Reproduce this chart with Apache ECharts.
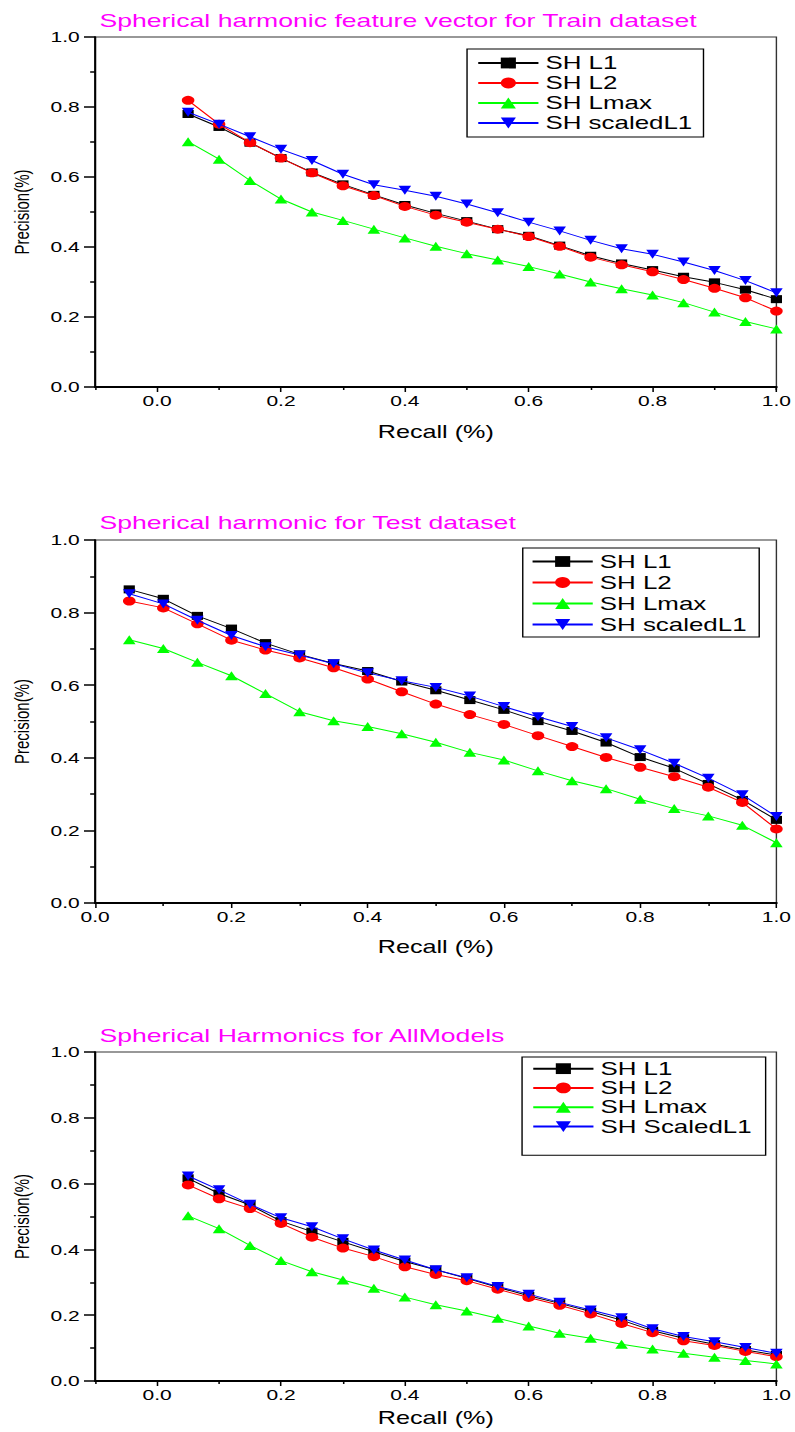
<!DOCTYPE html>
<html>
<head>
<meta charset="utf-8">
<script src="https://cdn.jsdelivr.net/npm/echarts@6/dist/echarts.min.js"></script>
<style>
html,body{margin:0;padding:0;background:#fff;overflow:hidden;}
#wrap{width:795px;height:1432px;overflow:hidden;}
#chart{width:568px;height:1432px;transform:scaleX(1.4);transform-origin:0 0;}
</style>
</head>
<body>
<div id="wrap"><div id="chart"></div></div>
<script>
// ---------- data ----------
const recall = [0.05,0.10,0.15,0.20,0.25,0.30,0.35,0.40,0.45,0.50,0.55,0.60,0.65,0.70,0.75,0.80,0.85,0.90,0.95,1.00];
const xTickLabels = [0.0,0.2,0.4,0.6,0.8,1.0];

const titles = ['Spherical harmonic feature vector for Train dataset','Spherical harmonic for Test dataset','Spherical Harmonics for AllModels'];
const seriesNames1 = ['SH L1','SH L2','SH Lmax','SH scaledL1'];
const seriesNames2 = ['SH L1','SH L2','SH Lmax','SH scaledL1'];
const seriesNames3 = ['SH L1','SH L2','SH Lmax','SH ScaledL1'];

// Chart 1: Train
const trainL1     = [0.780,0.743,0.698,0.654,0.613,0.579,0.549,0.520,0.496,0.474,0.451,0.432,0.404,0.375,0.353,0.334,0.315,0.299,0.278,0.251];
const trainL2     = [0.819,0.751,0.698,0.654,0.612,0.575,0.547,0.516,0.491,0.471,0.451,0.430,0.402,0.371,0.349,0.329,0.307,0.282,0.255,0.217];
const trainLmax   = [0.701,0.651,0.590,0.537,0.500,0.476,0.451,0.426,0.402,0.381,0.363,0.344,0.323,0.300,0.281,0.263,0.241,0.214,0.187,0.166];
const trainScaled = [0.785,0.751,0.715,0.679,0.647,0.608,0.578,0.562,0.545,0.523,0.498,0.471,0.446,0.419,0.395,0.379,0.357,0.333,0.304,0.269];

// Chart 2: Test
const testL1     = [0.864,0.838,0.791,0.756,0.716,0.685,0.660,0.639,0.610,0.586,0.559,0.532,0.501,0.474,0.442,0.402,0.371,0.328,0.284,0.229];
const testL2     = [0.832,0.813,0.769,0.724,0.697,0.675,0.648,0.617,0.582,0.548,0.519,0.492,0.461,0.431,0.401,0.374,0.348,0.319,0.277,0.204];
const testLmax   = [0.725,0.701,0.663,0.626,0.577,0.527,0.502,0.486,0.466,0.443,0.415,0.394,0.364,0.337,0.315,0.286,0.260,0.240,0.214,0.166];
const testScaled = [0.852,0.824,0.779,0.737,0.706,0.683,0.659,0.634,0.612,0.594,0.570,0.541,0.513,0.486,0.455,0.422,0.385,0.344,0.298,0.238];

// Chart 3: All models
const allL1     = [0.616,0.570,0.535,0.486,0.454,0.423,0.393,0.363,0.338,0.312,0.285,0.259,0.236,0.211,0.185,0.153,0.130,0.112,0.094,0.079];
const allL2     = [0.596,0.554,0.524,0.479,0.437,0.404,0.378,0.347,0.324,0.305,0.279,0.254,0.230,0.204,0.175,0.147,0.122,0.108,0.090,0.074];
const allLmax   = [0.502,0.463,0.412,0.366,0.332,0.307,0.282,0.255,0.232,0.213,0.191,0.167,0.145,0.130,0.112,0.097,0.084,0.072,0.062,0.052];
const allScaled = [0.623,0.581,0.537,0.496,0.469,0.432,0.398,0.368,0.338,0.314,0.287,0.264,0.239,0.216,0.192,0.159,0.135,0.119,0.102,0.084];

// ---------- styles ----------
const FONT = '"Liberation Sans", Arial, sans-serif';
const colors = ['#000000','#ff0000','#00ff00','#0000ff'];
const symbols = ['rect','circle','triangle','path://M0,0 L10,0 L5,10 Z'];
const symSizes = [8,9,9,9];
const fmt = v => Number(v).toFixed(1);

const chart = echarts.init(document.getElementById('chart'), null, {renderer:'svg'});

const grids = [
  {left:65, right:11.6, top:37, height:350},
  {left:65, right:11.6, top:540, height:363},
  {left:65, right:11.6, top:1052, height:329}
];
const titleTops = [6, 508, 1021];
const nameGaps = [36, 35, 28];

const legends = [
  {left:333.6, top:49, lineHeight:20, padding:[4,8,4,7], names:seriesNames1},
  {left:373.4, top:548, lineHeight:21, padding:[3,9,2,6], names:seriesNames2},
  {left:372.9, top:1057, lineHeight:19.3, padding:[2,10,19,7], names:seriesNames3}
];

const dataSets = [
  [trainL1, trainL2, trainLmax, trainScaled],
  [testL1, testL2, testLmax, testScaled],
  [allL1, allL2, allLmax, allScaled]
];
const seriesNameSets = [seriesNames1, seriesNames2, seriesNames3];

const xAxes = [], yAxes = [], series = [];
const axisLabelStyle = {color:'#000', fontSize:15, fontFamily:FONT};

grids.forEach((g, gi) => {
  const extended = gi !== 1;  // charts 1 and 3 start at -0.1
  const mainX = xAxes.length;
  if (extended) {
    // axis line + minor ticks
    xAxes.push({
      type:'value', gridIndex:gi, position:'bottom', min:-0.1, max:1.0, interval:0.2,
      axisLine:{show:true, onZero:false, lineStyle:{color:'#000', width:2}},
      axisTick:{show:true, length:3, lineStyle:{color:'#000', width:1.1}},
      axisLabel:{show:false}, splitLine:{show:false},
      name:'Recall (%)', nameLocation:'middle', nameGap:nameGaps[gi],
      nameTextStyle:{color:'#000', fontSize:18, fontFamily:FONT}
    });
    // major ticks + labels
    xAxes.push({
      type:'value', gridIndex:gi, position:'bottom', offset:0, min:-0.1, max:1.0,
      axisLine:{show:false, onZero:false},
      axisTick:{show:true, length:5, customValues:xTickLabels, lineStyle:{color:'#000', width:1.1}},
      axisLabel:Object.assign({show:true, margin:6, customValues:xTickLabels, formatter:fmt}, axisLabelStyle),
      splitLine:{show:false}
    });
  } else {
    xAxes.push({
      type:'value', gridIndex:gi, position:'bottom', min:0, max:1.0, interval:0.2,
      axisLine:{show:true, onZero:false, lineStyle:{color:'#000', width:2}},
      axisTick:{show:true, length:5, lineStyle:{color:'#000', width:1.1}},
      minorTick:{show:true, splitNumber:2, length:3, lineStyle:{color:'#000', width:1.1}},
      axisLabel:Object.assign({show:true, margin:6, formatter:fmt}, axisLabelStyle),
      splitLine:{show:false},
      name:'Recall (%)', nameLocation:'middle', nameGap:nameGaps[gi],
      nameTextStyle:{color:'#000', fontSize:18, fontFamily:FONT}
    });
  }
  const yIdx = yAxes.length;
  yAxes.push({
    type:'value', gridIndex:gi, position:'left', min:0, max:1.0, interval:0.2,
    axisLine:{show:true, onZero:false, lineStyle:{color:'#000', width:1.5}},
    axisTick:{show:true, length:8, lineStyle:{color:'#000', width:1.5}},
    minorTick:{show:true, splitNumber:2, length:3.6, lineStyle:{color:'#000', width:1.5}},
    axisLabel:Object.assign({show:true, margin:11, formatter:fmt}, axisLabelStyle),
    splitLine:{show:false},
    name:'Precision(%)', nameLocation:'middle', nameGap:45,
    nameTextStyle:{color:'#000', fontSize:15, fontFamily:FONT}
  });
  dataSets[gi].forEach((vals, si) => {
    series.push({
      type:'line', name:seriesNameSets[gi][si], xAxisIndex:mainX, yAxisIndex:yIdx,
      data: recall.map((r, i) => [r, vals[i]]),
      symbol:symbols[si], symbolSize:symSizes[si], showSymbol:true,
      lineStyle:{color:colors[si], width:1},
      itemStyle:{color:colors[si]},
      animation:false, z:2+si
    });
  });
});

const option = {
  animation:false,
  backgroundColor:'#fff',
  title: titles.map((t, i) => ({
    text:t, left:66, top:titleTops[i],
    textStyle:{color:'#ff00ff', fontSize:19, fontWeight:'normal', fontFamily:FONT}
  })),
  legend: legends.map(l => ({
    orient:'vertical', left:l.left, top:l.top,
    data:l.names,
    itemWidth:43, itemHeight:13.5, itemGap:0,
    padding:l.padding,
    borderColor:'#000', borderWidth:1,
    backgroundColor:'#fff',
    selectedMode:false,
    textStyle:{color:'#000', fontSize:18.5, fontFamily:FONT, lineHeight:l.lineHeight}
  })),
  grid: grids.map(g => Object.assign({show:true, borderColor:'#333', borderWidth:1, backgroundColor:'transparent'}, g)),
  xAxis: xAxes,
  yAxis: yAxes,
  series: series
};
chart.setOption(option);
</script>
</body>
</html>
